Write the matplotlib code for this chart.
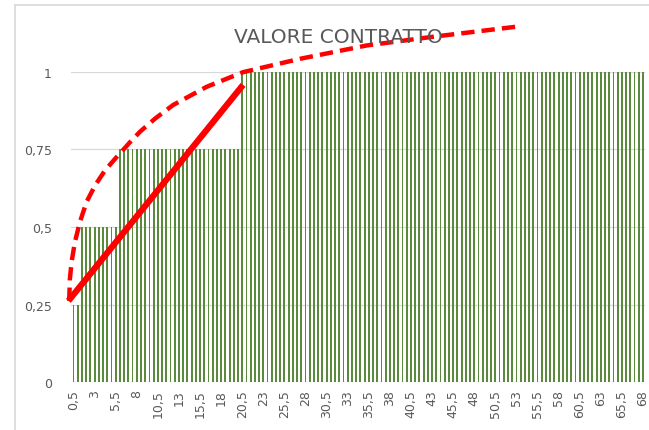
import matplotlib.pyplot as plt
import numpy as np
from matplotlib.lines import Line2D

# categories 0,5 .. 68 (step 0,5)
categorie = np.arange(1, 137) * 0.5
# step values
valori = [0.25] * 2 + [0.5] * 9 + [0.75] * 29 + [1.0] * 96

# hand-drawn red lines (x in category units, y in value units)
retta_x = [-0.1, 20.6]
retta_y = [0.262, 0.958]
curva_x = [-0.01, 0.07, 0.27, 0.67, 1.26, 2.05, 3.04, 4.22, 5.6, 6.4, 7.19, 8.38,
           10.2, 12.3, 16.3, 20.6, 27.35, 35.25, 43.1, 52.85]
curva_y = [0.262, 0.332, 0.387, 0.452, 0.516, 0.581, 0.633, 0.682, 0.725, 0.749, 0.773, 0.807,
           0.850, 0.893, 0.952, 0.999, 1.042, 1.085, 1.113, 1.145]

yticks = [0, 0.25, 0.5, 0.75, 1]
xtick_pos = categorie[::5]

def virgola(v):
    s = ('%g' % v)
    return s.replace('.', ',')

fig = plt.figure(figsize=(6.49, 4.31), dpi=100)
ax = fig.add_axes([0.110, 0.111, 0.884, 0.720])

ax.bar(categorie, valori, width=0.22, color='#5A8A3B', zorder=2)

ax.set_xlim(0.25, 68.25)
ax.set_ylim(0, 1)
for s in ax.spines.values():
    s.set_visible(False)
ax.set_yticks(yticks)
ax.set_yticklabels([virgola(v) for v in yticks], fontsize=9, color='#595959')
ax.set_xticks(xtick_pos)
ax.set_xticklabels([virgola(v) for v in xtick_pos], rotation=90, fontsize=9, color='#595959')
ax.tick_params(length=0, pad=5)
ax.tick_params(axis='y', pad=14)
ax.grid(axis='y', color='#D9D9D9', lw=0.9, zorder=0)
ax.axhline(0, color='#D9D9D9', lw=0.9, zorder=1)

ax.plot(curva_x, curva_y, color='#FF0000', lw=3.2, linestyle=(0, (3, 1.6)),
        clip_on=False, zorder=5)
ax.plot(retta_x, retta_y, color='#FF0000', lw=4.5, solid_capstyle='butt',
        clip_on=False, zorder=6)

fig.text(0.522, 0.912, 'VALORE CONTRATTO', ha='center', va='center',
         fontsize=14.5, color='#595959')

# chart area border (partly visible)
fig.add_artist(Line2D([15 / 649, 15 / 649], [0, 1 - 6 / 431], color='#D9D9D9', lw=1.2))
fig.add_artist(Line2D([15 / 649, 1], [1 - 6 / 431, 1 - 6 / 431], color='#D9D9D9', lw=1.2))

fig.savefig('out.png', dpi=100)
